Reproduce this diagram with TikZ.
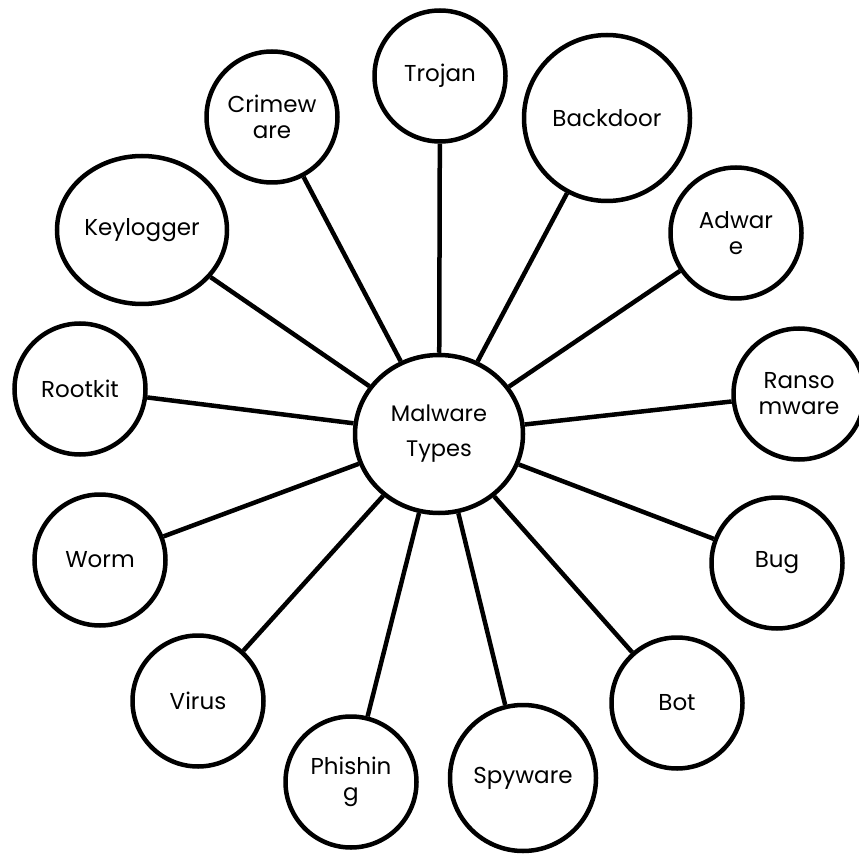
\documentclass[tikz,border=0pt]{standalone}
\usepackage{fontspec}
\setmainfont{Poppins}
\usetikzlibrary{shapes.geometric}
\tikzset{
  bubble/.style={circle, draw, line width=4.5pt, minimum size=131pt, inner sep=0pt, align=center,
    font=\fontsize{23}{26}\selectfont},
  bigbubble/.style={bubble, minimum size=146pt},
  link/.style={line width=4.5pt}
}
\begin{document}
\begin{tikzpicture}[x=1pt,y=-1pt]
\useasboundingbox (0,0) rectangle (859,858);
\node[ellipse, draw, line width=4.5pt, minimum width=168pt, minimum height=158pt, inner sep=0pt, align=center,
  font=\fontsize{22.5}{35}\selectfont] (mal) at (439,434) {Malware\\Types};
\node[bubble] (trojan) at (440,76) {Trojan};
\node[bubble, minimum size=166pt] (backdoor) at (607,118) {Backdoor};
\node[bubble] (crime) at (272,117) {Crimew\\are};
\node[ellipse, draw, line width=4.5pt, minimum width=170pt, minimum height=148pt, inner sep=0pt, align=center,
  font=\fontsize{23}{26}\selectfont] (key) at (142,230) {Keylogger};
\node[bubble] (ad) at (736,233) {Adwar\\e};
\node[bubble] (root) at (80,389) {Rootkit};
\node[bubble] (ransom) at (799,394) {Ranso\\mware};
\node[bubble] (worm) at (100,560) {Worm};
\node[bubble] (bug) at (777,563) {Bug};
\node[bubble] (virus) at (198,701) {Virus};
\node[bubble] (bot) at (677,703) {Bot};
\node[bubble] (phish) at (351,782) {Phishin\\g};
\node[bigbubble] (spy) at (523,778) {Spyware};
\foreach \n in {trojan,backdoor,crime,key,ad,root,ransom,worm,bug,virus,bot,phish,spy}
  \draw[link] (mal) -- (\n);
\end{tikzpicture}
\end{document}
